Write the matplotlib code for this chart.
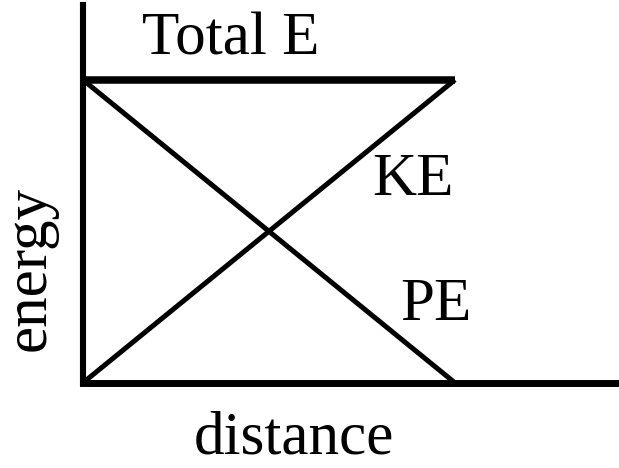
import matplotlib.pyplot as plt

# energy along the path (fractions of the total energy)
distance = [0.0, 1.0]
total_e = [1.0, 1.0]
kinetic = [0.0, 1.0]
potential = [1.0, 0.0]

plt.rcParams['font.family'] = ['Liberation Serif', 'DejaVu Serif']

fig = plt.figure(figsize=(6.19, 4.68), dpi=100)
ax = fig.add_axes([0.134, 0.182, 0.866, 0.808])

ax.plot(distance, total_e, color='black', lw=5.4, solid_capstyle='butt')
ax.plot(distance, kinetic, color='black', lw=3.6, solid_capstyle='butt')
ax.plot(distance, potential, color='black', lw=3.6, solid_capstyle='butt')

ax.set_xlim(0, 1.441)
ax.set_ylim(0, 1.248)

# only the two axis lines, no ticks
for side in ['top', 'right']:
    ax.spines[side].set_visible(False)
ax.spines['left'].set_linewidth(4.4)
ax.spines['bottom'].set_linewidth(5.0)
ax.set_xticks([])
ax.set_yticks([])

fs = 44
ax.text(0.159, 1.083, 'Total E', fontsize=fs, ha='left', va='baseline')
ax.text(0.777, 0.620, 'KE', fontsize=fs, ha='left', va='baseline')
ax.text(0.852, 0.208, 'PE', fontsize=fs, ha='left', va='baseline')

ax.text(0.394, -0.188, 'distance', fontsize=fs, ha='center', va='baseline',
        transform=ax.transAxes, clip_on=False)
ax.text(-0.071, 0.303, 'energy', fontsize=fs, ha='center', va='baseline',
        rotation=90, rotation_mode='anchor',
        transform=ax.transAxes, clip_on=False)

fig.savefig('out.png', dpi=100)
